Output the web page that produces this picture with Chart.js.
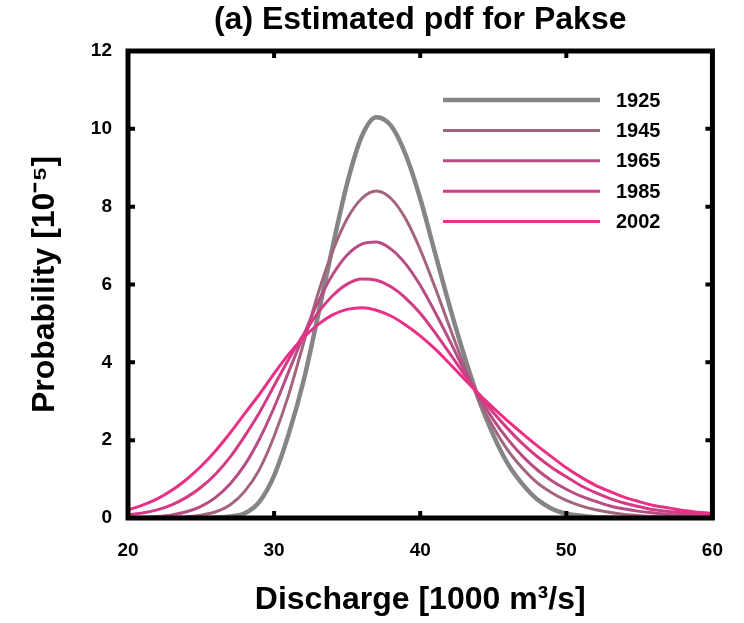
<!DOCTYPE html>
<html>
<head>
<meta charset="utf-8">
<script src="https://cdn.jsdelivr.net/npm/chart.js@4/dist/chart.umd.min.js"></script>
<style>
  html, body { margin: 0; padding: 0; background: #fff; }
  #wrap { width: 744px; height: 623px; }
</style>
</head>
<body>
<div id="wrap"><canvas id="pdfChart" width="744" height="623"></canvas></div>
<script>
// discharge in 1000 m3/s, probability in 1e-5
const discharge = [20, 21, 22, 23, 24, 25, 26, 27, 28, 29, 30, 31, 32, 33, 34, 35, 36, 37, 38, 39, 40,
    41, 42, 43, 44, 45, 46, 47, 48, 49, 50, 51, 52, 53, 54, 55, 56, 57, 58, 59, 60];

const years = ['1925', '1945', '1965', '1985', '2002'];

const p1925 = [0, 0, 0, 0, 0, 0, 0.01, 0.04, 0.12, 0.42, 1.09, 2.16, 3.50, 5.19, 6.96, 8.60, 9.81, 10.30, 10.08, 9.34, 8.21,
    6.83, 5.46, 4.19, 3.05, 2.13, 1.39, 0.87, 0.48, 0.24, 0.11, 0.06, 0.02, 0.01, 0, 0, 0, 0, 0, 0, 0];
const p1945 = [0, 0, 0, 0.01, 0.03, 0.07, 0.16, 0.34, 0.69, 1.25, 2.10, 3.17, 4.47, 5.76, 6.85, 7.69, 8.21, 8.40, 8.21, 7.69, 6.90,
    5.94, 4.92, 3.93, 3.05, 2.34, 1.74, 1.28, 0.91, 0.65, 0.45, 0.31, 0.21, 0.14, 0.09, 0.06, 0.04, 0.03, 0.02, 0.01, 0.01];
const p1965 = [0.01, 0.02, 0.04, 0.08, 0.16, 0.30, 0.53, 0.88, 1.37, 2.03, 2.84, 3.76, 4.68, 5.54, 6.25, 6.76, 7.04, 7.09, 6.91, 6.53, 5.98,
    5.30, 4.57, 3.81, 3.13, 2.53, 2.02, 1.59, 1.24, 0.96, 0.74, 0.56, 0.43, 0.31, 0.23, 0.17, 0.13, 0.09, 0.07, 0.05, 0.04];
const p1985 = [0.08, 0.13, 0.21, 0.34, 0.53, 0.79, 1.13, 1.57, 2.11, 2.71, 3.40, 4.08, 4.71, 5.27, 5.71, 6.01, 6.14, 6.11, 5.94, 5.65, 5.26,
    4.77, 4.24, 3.70, 3.18, 2.71, 2.29, 1.91, 1.58, 1.30, 1.06, 0.83, 0.65, 0.50, 0.38, 0.29, 0.21, 0.17, 0.13, 0.10, 0.08];
const p2002 = [0.21, 0.33, 0.49, 0.71, 0.99, 1.33, 1.73, 2.19, 2.69, 3.18, 3.71, 4.21, 4.63, 4.97, 5.22, 5.36, 5.40, 5.34, 5.19, 4.96, 4.68,
    4.35, 3.97, 3.58, 3.19, 2.83, 2.49, 2.17, 1.86, 1.57, 1.29, 1.05, 0.84, 0.68, 0.53, 0.42, 0.32, 0.26, 0.19, 0.15, 0.12];

const xTicks = [20, 30, 40, 50, 60];
const yTicks = [0, 2, 4, 6, 8, 10, 12];

const series = [p1925, p1945, p1965, p1985, p2002];
const colors = ['#858585', '#a3647f', '#b84d83', '#d43a85', '#ec2f86'];
const widths = [4.5, 3, 3, 3, 3];

const FONT = "'Liberation Sans', Arial, Helvetica, sans-serif";

// thick black frame with inward ticks
const framePlugin = {
    id: 'frame',
    afterDraw(chart) {
        const { ctx, chartArea: a, scales } = chart;
        ctx.save();
        ctx.strokeStyle = '#000';
        ctx.lineWidth = 5;
        ctx.strokeRect(a.left, a.top, a.right - a.left, a.bottom - a.top);
        ctx.lineWidth = 4;
        ctx.beginPath();
        xTicks.slice(1, -1).forEach(v => {
            const x = scales.x.getPixelForValue(v);
            ctx.moveTo(x, a.top); ctx.lineTo(x, a.top + 7);
            ctx.moveTo(x, a.bottom); ctx.lineTo(x, a.bottom - 7);
        });
        yTicks.slice(1, -1).forEach(v => {
            const y = scales.y.getPixelForValue(v);
            ctx.moveTo(a.left, y); ctx.lineTo(a.left + 7, y);
            ctx.moveTo(a.right, y); ctx.lineTo(a.right - 7, y);
        });
        ctx.stroke();
        ctx.restore();
    }
};

// legend drawn inside the plot, upper right
const legendPlugin = {
    id: 'insideLegend',
    afterDatasetsDraw(chart) {
        const { ctx } = chart;
        ctx.save();
        ctx.font = `bold 20px ${FONT}`;
        ctx.textBaseline = 'middle';
        ctx.fillStyle = '#000';
        chart.data.datasets.forEach((ds, i) => {
            const y = 100 + i * 30.4;
            ctx.strokeStyle = ds.borderColor;
            ctx.lineWidth = ds.borderWidth;
            ctx.beginPath();
            ctx.moveTo(443, y); ctx.lineTo(600, y);
            ctx.stroke();
            ctx.fillText(ds.label, 616, y + 1);
        });
        ctx.restore();
    }
};

const datasets = series.map((arr, i) => ({
    label: years[i],
    data: discharge.map((x, j) => ({ x, y: arr[j] })),
    borderColor: colors[i],
    backgroundColor: colors[i],
    borderWidth: widths[i],
    pointRadius: 0,
    fill: false,
    cubicInterpolationMode: 'monotone',
    order: series.length - i
}));

new Chart(document.getElementById('pdfChart'), {
    type: 'line',
    data: { datasets },
    options: {
        responsive: false,
        animation: false,
        layout: { padding: { left: 0, right: 28, top: 0, bottom: 0 } },
        plugins: {
            legend: { display: false },
            tooltip: { enabled: false },
            title: {
                display: true,
                text: '(a) Estimated pdf for Pakse',
                fullSize: false,
                color: '#000',
                font: { family: FONT, size: 32, weight: 'bold', lineHeight: 1.2 },
                padding: { top: 1, bottom: 11.6 }
            }
        },
        scales: {
            x: {
                type: 'linear', min: 20, max: 60,
                afterBuildTicks: s => { s.ticks = xTicks.map(value => ({ value })); },
                afterFit: s => { s.height = 105; },
                grid: { display: false, drawTicks: false },
                border: { display: false },
                ticks: { color: '#000', padding: 21, font: { family: FONT, size: 19, weight: 'bold' } },
                title: {
                    display: true, text: 'Discharge [1000 m³/s]', color: '#000', padding: 4,
                    font: { family: FONT, size: 32, weight: 'bold', lineHeight: 1.2 }
                }
            },
            y: {
                min: 0, max: 12,
                afterBuildTicks: s => { s.ticks = yTicks.map(value => ({ value })); },
                afterFit: s => { s.width = 128; },
                grid: { display: false, drawTicks: false },
                border: { display: false },
                ticks: { color: '#000', padding: 16, font: { family: FONT, size: 19, weight: 'bold' } },
                title: {
                    display: true, text: 'Probability [10⁻⁵]', color: '#000', padding: 26,
                    font: { family: FONT, size: 32, weight: 'bold', lineHeight: 1.2 }
                }
            }
        }
    },
    plugins: [framePlugin, legendPlugin]
});
</script>
</body>
</html>
